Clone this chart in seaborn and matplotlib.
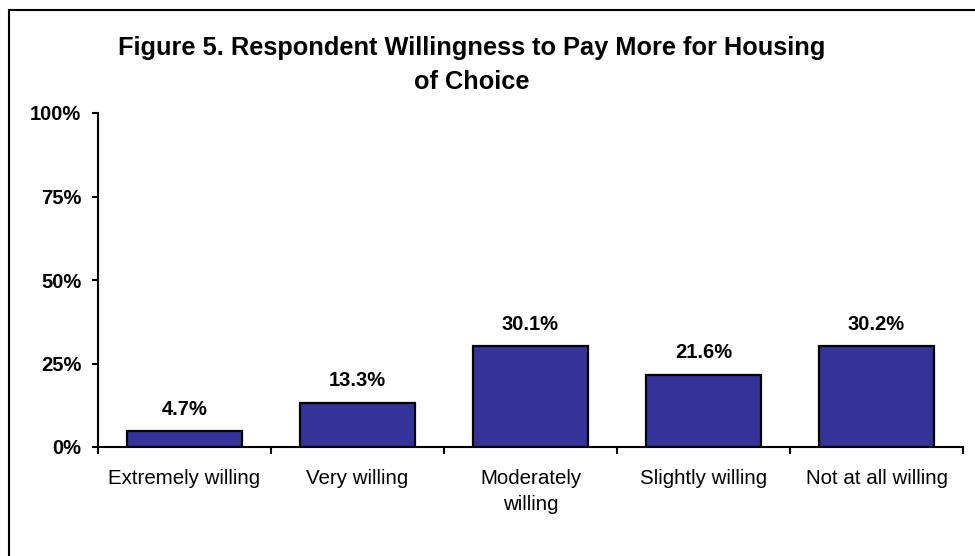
import matplotlib
matplotlib.use("Agg")
import matplotlib.pyplot as plt
import seaborn as sns
from matplotlib.patches import Rectangle
from matplotlib.ticker import FixedLocator, FuncFormatter

categories = ["Extremely willing", "Very willing", "Moderately\nwilling",
              "Slightly willing", "Not at all willing"]
values = [4.7, 13.3, 30.1, 21.6, 30.2]
yticks = [0, 25, 50, 75, 100]
title = "Figure 5. Respondent Willingness to Pay More for Housing\nof Choice"

sns.set_style("white")
plt.rcParams["font.family"] = ["Liberation Sans", "DejaVu Sans"]
plt.rcParams["text.color"] = "black"
plt.rcParams["xtick.color"] = "black"
plt.rcParams["ytick.color"] = "black"

fig = plt.figure(figsize=(9.75, 5.56), dpi=100)
ax = fig.add_axes([98 / 975, 1 - 447 / 556, 865 / 975, 334 / 556])

sns.barplot(x=categories, y=values, color="#333399", saturation=1,
            edgecolor="black", linewidth=1.6, width=0.67, ax=ax)

ax.set_xlim(-0.5, len(categories) - 0.5)
ax.set_ylim(0, 100)
ax.yaxis.set_major_locator(FixedLocator(yticks))
ax.yaxis.set_major_formatter(FuncFormatter(lambda v, p: f"{v:.0f}%"))
for lbl in ax.get_yticklabels():
    lbl.set_fontweight("bold")
ax.tick_params(axis="y", labelsize=14.5, length=4.5, width=1.5, direction="out",
               left=True, pad=7.5, colors="black")

# category ticks sit on the boundaries between bars
ax.set_xticks([i for i in range(len(categories))])
ax.set_xticklabels(categories, fontsize=14.8, linespacing=1.45, color="black")
ax.tick_params(axis="x", length=0, pad=16)
ax.set_xticks([i - 0.5 for i in range(len(categories) + 1)], minor=True)
ax.tick_params(axis="x", which="minor", length=5, width=1.5, direction="out",
               bottom=True, colors="black")
for lbl in ax.get_xticklabels():
    lbl.set_verticalalignment("top")

for side in ["top", "right"]:
    ax.spines[side].set_visible(False)
for side in ["left", "bottom"]:
    ax.spines[side].set_linewidth(1.5)
    ax.spines[side].set_color("black")
ax.set_xlabel("")
ax.set_ylabel("")

for i, v in enumerate(values):
    ax.annotate(f"{v:.1f}%", xy=(i, v), xytext=(0, 9), textcoords="offset points",
                ha="center", va="bottom", fontsize=14.5, fontweight="bold",
                color="black")

fig.text(472 / 975, 1 - 65 / 556, title, ha="center", va="center",
         fontsize=18.3, fontweight="bold", linespacing=1.52, color="black")

# outer chart frame
fig.patches.append(Rectangle((9 / 975, -0.1), 1.2, 1 - 10 / 556 + 0.1,
                             transform=fig.transFigure, fill=False,
                             edgecolor="black", linewidth=1.5))

fig.savefig("out.png", dpi=100)
